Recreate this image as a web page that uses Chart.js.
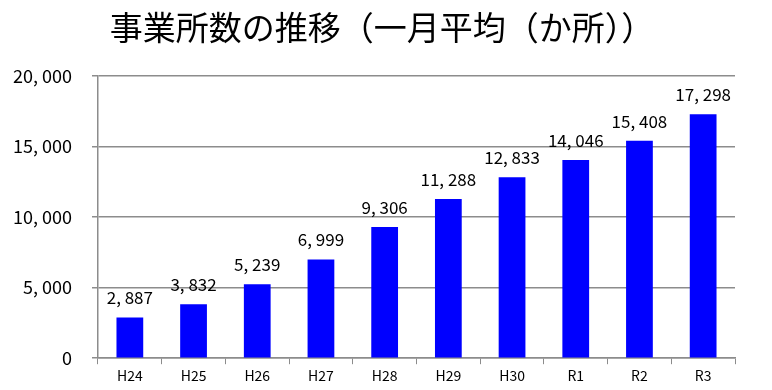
<!DOCTYPE html>
<html>
<head>
<meta charset="utf-8">
<script src="https://cdn.jsdelivr.net/npm/chart.js@4"></script>
<style>
  body { margin: 0; background: #fff; }
  #wrap { width: 772px; height: 390px; }
</style>
</head>
<body>
<div id="wrap"><canvas id="one"></canvas></div>
<script>
// data
const years = ['H24', 'H25', 'H26', 'H27', 'H28', 'H29', 'H30', 'R1', 'R2', 'R3'];
const offices = [2887, 3832, 5239, 6999, 9306, 11288, 12833, 14046, 15408, 17298];
const yTicks = [0, 5000, 10000, 15000, 20000];
const titleText = '事業所数の推移（一月平均（か所））';

const font = '"Noto Sans CJK JP", "Noto Sans", sans-serif';

// japanese style number with a wide comma gap
function fmt(v) {
  return v.toLocaleString('en-US').replace(/,/g, ', ');
}

// value labels over the bars + title centred on the page
const barLabels = {
  id: 'barLabels',
  afterDatasetsDraw(chart) {
    const c = chart.ctx;
    const meta = chart.getDatasetMeta(0);
    c.save();
    c.font = '17px ' + font;
    c.fillStyle = '#000';
    c.textAlign = 'center';
    c.textBaseline = 'bottom';
    meta.data.forEach(function(bar, i) {
      c.fillText(fmt(offices[i]), bar.x, bar.y - 11);
    });
    c.font = '33px ' + font;
    c.textBaseline = 'middle';
    c.fillText(titleText, 382, 27);
    c.restore();
  }
};

const ctx = document.getElementById('one');
new Chart(ctx, {
  type: 'bar',
  data: {
    labels: years,
    datasets: [{
      data: offices,
      backgroundColor: '#0000ff',
      barPercentage: 0.42,
      categoryPercentage: 1
    }]
  },
  options: {
    responsive: true,
    maintainAspectRatio: false,
    animation: false,
    layout: { padding: { left: 10, right: 37, top: 76, bottom: 3 } },
    plugins: {
      legend: { display: false },
      tooltip: { enabled: false },
      title: { display: false }
    },
    scales: {
      x: {
        grid: { drawOnChartArea: false, color: '#8c8c8c', tickLength: 6, offset: true },
        border: { color: '#8c8c8c', width: 1.5 },
        ticks: { color: '#000', font: { family: font, size: 14 }, padding: 3, maxRotation: 0 }
      },
      y: {
        min: 0,
        max: 20000,
        afterFit: function(scale) { scale.width = 88; },
        afterBuildTicks: function(scale) { scale.ticks = yTicks.map(v => ({ value: v })); },
        grid: { color: '#8c8c8c', lineWidth: 1.5, tickLength: 6 },
        border: { color: '#8c8c8c', width: 1.5 },
        ticks: {
          color: '#000',
          font: { family: font, size: 18 },
          padding: 20,
          callback: function(v) { return fmt(v); }
        }
      }
    }
  },
  plugins: [barLabels]
});
</script>
</body>
</html>
